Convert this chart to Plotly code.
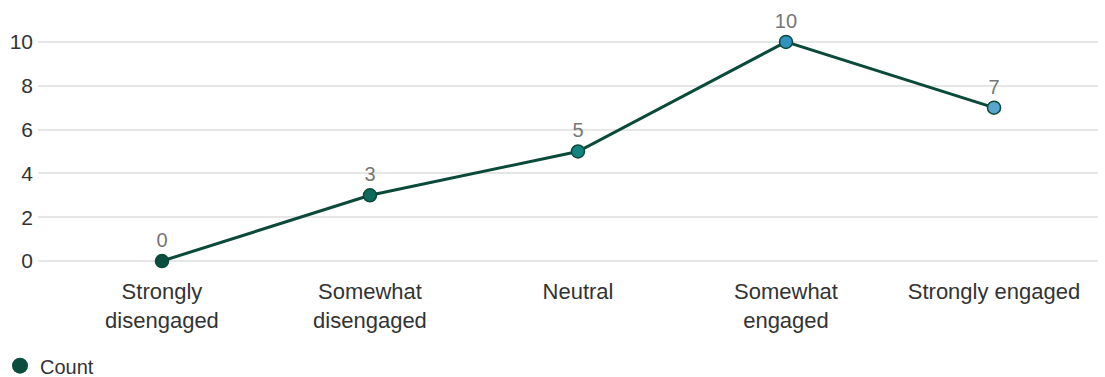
import plotly.graph_objects as go

categories = ["Strongly<br>disengaged", "Somewhat<br>disengaged", "Neutral",
              "Somewhat<br>engaged", "Strongly engaged"]
counts = [0, 3, 5, 10, 7]
point_colors = ["#0b4d3e", "#0c6b5a", "#12837f", "#3092be", "#5aa5cb"]
y_ticks = [0, 2, 4, 6, 8, 10]

x_pos = list(range(len(categories)))

fig = go.Figure()
fig.add_trace(go.Scatter(
    x=x_pos,
    y=counts,
    mode="lines+markers+text",
    name="Count",
    showlegend=False,
    text=[str(v) for v in counts],
    textposition="top center",
    textfont=dict(size=20, color="#777777"),
    line=dict(color="#0b4a3a", width=3),
    marker=dict(size=13, color=point_colors,
                line=dict(color="#0b4a3a", width=1.5)),
    cliponaxis=False,
))
# legend swatch in the series' base colour
fig.add_trace(go.Scatter(
    x=[None], y=[None], mode="markers", name="Count",
    marker=dict(size=16, color="#0b4d3e"), showlegend=True,
))

fig.update_layout(
    width=1105, height=377,
    margin=dict(l=38, r=7, t=20, b=107, autoexpand=False),
    paper_bgcolor="white",
    plot_bgcolor="white",
    font=dict(family="Liberation Sans, Arial, sans-serif", color="#333333", size=21),
    showlegend=True,
    legend=dict(orientation="h", xref="container", x=0.0, xanchor="left",
                yref="container", y=0.03, yanchor="middle",
                font=dict(size=20, color="#333333")),
    xaxis=dict(
        tickmode="array", tickvals=x_pos, ticktext=categories,
        range=[-0.596, 4.5], showgrid=False, zeroline=False, showline=False,
        tickfont=dict(size=22, color="#333333"), automargin=False,
        ticklabelstandoff=6,
    ),
    yaxis=dict(
        tickmode="array", tickvals=y_ticks,
        range=[-0.41, 11.0], showgrid=True, gridcolor="#e6e6e6", gridwidth=2,
        zeroline=False, showline=False, automargin=False,
        tickfont=dict(size=21, color="#333333"), ticklabelstandoff=4,
    ),
)

fig.write_html("out.html")
